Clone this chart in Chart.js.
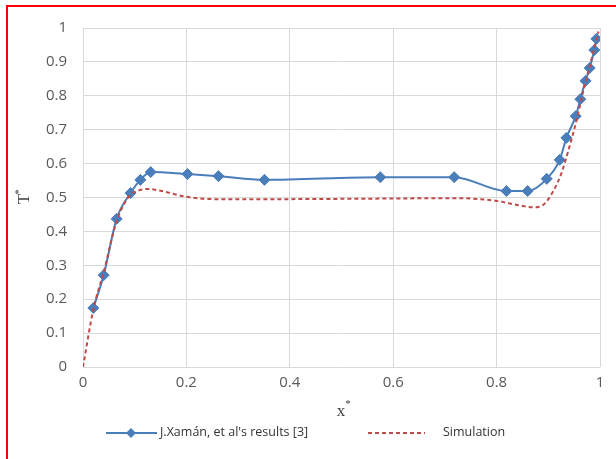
<!DOCTYPE html>
<html>
<head>
<meta charset="utf-8">
<script src="https://cdn.jsdelivr.net/npm/chart.js@4/dist/chart.umd.min.js"></script>
<style>
  html, body { margin: 0; padding: 0; background: #fff; }
  #wrap { position: relative; width: 616px; height: 459px; overflow: hidden; }
  #frame { position: absolute; left: 6px; top: 5px; width: 700px; height: 600px; border: 2px solid #ff0000; }
  canvas { position: absolute; left: 0; top: 0; }
</style>
</head>
<body>
<div id="wrap">
  <div id="frame"></div>
  <canvas id="chart" width="616" height="459"></canvas>
</div>
<script>
// J.Xamán, et al's results [3]
var xamanX = [0.020, 0.040, 0.065, 0.092, 0.111, 0.131, 0.202, 0.262, 0.351, 0.575, 0.718, 0.819, 0.860, 0.897, 0.922, 0.935, 0.953, 0.962, 0.972, 0.980, 0.989, 0.993];
var xamanY = [0.174, 0.271, 0.437, 0.513, 0.552, 0.575, 0.569, 0.563, 0.552, 0.560, 0.560, 0.519, 0.519, 0.555, 0.611, 0.676, 0.740, 0.790, 0.844, 0.882, 0.935, 0.968];

// Simulation
var simX = [0, 0.020, 0.040, 0.065, 0.090, 0.110, 0.125, 0.150, 0.200, 0.260, 0.350, 0.500, 0.600, 0.720, 0.800, 0.840, 0.870, 0.890, 0.910, 0.925, 0.940, 0.955, 0.967, 0.980, 0.997];
var simY = [0, 0.170, 0.280, 0.430, 0.505, 0.522, 0.525, 0.520, 0.502, 0.495, 0.495, 0.496, 0.497, 0.498, 0.490, 0.478, 0.471, 0.478, 0.520, 0.570, 0.645, 0.730, 0.810, 0.886, 0.990];

var xTicks = [0, 0.2, 0.4, 0.6, 0.8, 1];
var yTicks = [0, 0.1, 0.2, 0.3, 0.4, 0.5, 0.6, 0.7, 0.8, 0.9, 1];

var blue = '#4a7ebb';
var red = '#be4b48';

function toPoints(xs, ys) {
    return xs.map(function (x, i) { return { x: x, y: ys[i] }; });
}

function tickText(v) {
    return String(Math.round(v * 10) / 10);
}

// axis titles + legend drawn by hand
var extras = {
    id: 'extras',
    afterDraw: function (chart) {
        var ctx = chart.ctx;
        ctx.save();
        ctx.fillStyle = '#404040';
        ctx.textAlign = 'center';
        ctx.textBaseline = 'middle';
        // x*
        ctx.font = '17px "Liberation Serif"';
        ctx.fillText('x', 341, 412);
        ctx.font = '11px "Liberation Serif"';
        ctx.fillText('*', 348, 404);
        // T*
        ctx.translate(25, 199);
        ctx.rotate(-Math.PI / 2);
        ctx.font = '17px "Liberation Serif"';
        ctx.fillText('T', 0, 0);
        ctx.font = '11px "Liberation Serif"';
        ctx.fillText('*', 7, -6);
        ctx.restore();

        ctx.save();
        // legend blue
        ctx.strokeStyle = blue;
        ctx.lineWidth = 2;
        ctx.beginPath();
        ctx.moveTo(106, 433);
        ctx.lineTo(157, 433);
        ctx.stroke();
        ctx.fillStyle = blue;
        ctx.beginPath();
        ctx.moveTo(131, 428);
        ctx.lineTo(136, 433);
        ctx.lineTo(131, 438);
        ctx.lineTo(126, 433);
        ctx.closePath();
        ctx.fill();
        // legend red
        ctx.strokeStyle = red;
        ctx.setLineDash([4, 3]);
        ctx.beginPath();
        ctx.moveTo(368, 433);
        ctx.lineTo(425, 433);
        ctx.stroke();
        ctx.setLineDash([]);
        ctx.fillStyle = '#333';
        ctx.font = '12.5px "Open Sans"';
        ctx.textAlign = 'left';
        ctx.textBaseline = 'middle';
        ctx.fillText("J.Xamán, et al's results [3]", 160, 432);
        ctx.fillText('Simulation', 443, 432);
        ctx.restore();
    }
};

new Chart(document.getElementById('chart').getContext('2d'), {
    type: 'line',
    data: {
        datasets: [
            {
                label: 'Simulation',
                data: toPoints(simX, simY),
                borderColor: red,
                borderWidth: 2,
                borderDash: [4, 3],
                pointRadius: 0,
                cubicInterpolationMode: 'monotone',
                fill: false
            },
            {
                label: "J.Xamán, et al's results [3]",
                data: toPoints(xamanX, xamanY),
                borderColor: blue,
                backgroundColor: blue,
                borderWidth: 2,
                pointStyle: 'rectRot',
                pointRadius: 5.5,
                pointBorderWidth: 1,
                cubicInterpolationMode: 'monotone',
                fill: false
            }
        ]
    },
    options: {
        responsive: false,
        animation: false,
        layout: { padding: { left: 0, right: 16, top: 28, bottom: 0 } },
        plugins: { legend: { display: false }, tooltip: { enabled: false } },
        scales: {
            x: {
                type: 'linear',
                min: 0,
                max: 1,
                afterBuildTicks: function (s) { s.ticks = xTicks.map(function (v) { return { value: v }; }); },
                afterFit: function (s) { s.height = 92; },
                grid: { color: '#d9d9d9', drawTicks: false },
                border: { display: false },
                ticks: { color: '#595959', font: { family: 'Open Sans', size: 15 }, padding: 7, maxRotation: 0, callback: tickText }
            },
            y: {
                min: 0,
                max: 1,
                afterBuildTicks: function (s) { s.ticks = yTicks.map(function (v) { return { value: v }; }); },
                afterFit: function (s) { s.width = 83; },
                grid: { color: '#d9d9d9', drawTicks: false },
                border: { display: false },
                ticks: { color: '#595959', font: { family: 'Open Sans', size: 15 }, padding: 16, callback: tickText }
            }
        }
    },
    plugins: [extras]
});
</script>
</body>
</html>
